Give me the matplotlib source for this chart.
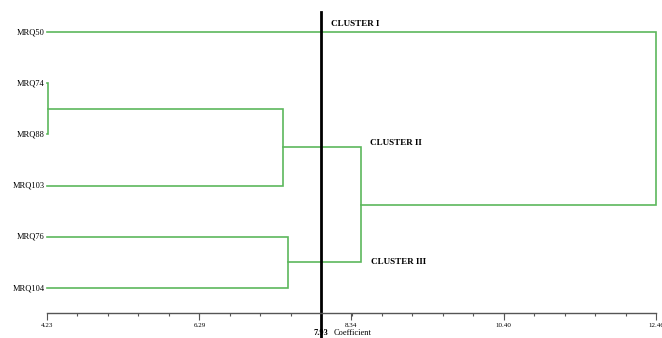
import matplotlib.pyplot as plt
import numpy as np

# leaves top to bottom
leaves = ['MRQ50', 'MRQ74', 'MRQ88', 'MRQ103', 'MRQ76', 'MRQ104']
# merges, scipy style ids (0-5 leaves, 6.. new clusters)
merge_a = [1, 6, 4, 7, 0]
merge_b = [2, 3, 5, 8, 9]
merge_h = [4.24, 7.42, 7.49, 8.47, 12.46]

ticks = [4.23, 6.29, 8.34, 10.40, 12.46]
cut = 7.93
cluster_names = ['CLUSTER I', 'CLUSTER II', 'CLUSTER III']

green = '#5cb85c'
xmin = ticks[0]

fig = plt.figure(figsize=(6.62, 3.38), dpi=100)
ax = fig.add_axes([0, 0, 1, 1])

# node positions
pos_x = [xmin] * len(leaves)
pos_y = list(range(len(leaves)))
for a, b, h in zip(merge_a, merge_b, merge_h):
    ax.plot([pos_x[a], h, h, pos_x[b]], [pos_y[a], pos_y[a], pos_y[b], pos_y[b]],
            color=green, lw=1.2, solid_joinstyle='miter')
    pos_x.append(h)
    pos_y.append((pos_y[a] + pos_y[b]) / 2)

for i, name in enumerate(leaves):
    ax.text(xmin - 0.03, i, name, ha='right', va='center',
            family='Liberation Serif', fontsize=6)

# cut line
ax.plot([cut, cut], [-0.39, 6.2], color='black', lw=2)

ax.text(8.07, -0.16, cluster_names[0], ha='left', va='center',
        family='Liberation Serif', fontweight='bold', fontsize=6.5)
ax.text(8.60, 2.17, cluster_names[1], ha='left', va='center',
        family='Liberation Serif', fontweight='bold', fontsize=6.5)
ax.text(8.61, 4.49, cluster_names[2], ha='left', va='center',
        family='Liberation Serif', fontweight='bold', fontsize=6.5)

ax.text(cut, 5.88, '%.2f' % cut, ha='center', va='center',
        family='Liberation Serif', fontweight='bold', fontsize=6)
ax.text(cut + 0.17, 5.87, 'Coefficient', ha='left', va='center',
        family='Liberation Serif', fontsize=6)

s = (656 - 47) / (ticks[-1] - ticks[0])
ax.set_xlim(xmin - 47 / s, xmin + (662 - 47) / s)
ax.set_ylim((338 - 32) / 51.2, -32 / 51.2)

for sp in ['top', 'left', 'right']:
    ax.spines[sp].set_visible(False)
ax.spines['bottom'].set_position(('data', (313 - 32) / 51.2))
ax.spines['bottom'].set_bounds(ticks[0], ticks[-1])
ax.spines['bottom'].set_color('#555555')
ax.spines['bottom'].set_linewidth(1)
ax.set_xticks(ticks)
ax.set_xticklabels(['%.2f' % t for t in ticks], family='Liberation Serif', fontsize=5)
ax.set_xticks(np.linspace(ticks[0], ticks[-1], 21), minor=True)
ax.tick_params(axis='x', which='major', length=5, width=0.8, color='#555555', pad=2)
ax.tick_params(axis='x', which='minor', length=2.5, width=0.8, color='#555555')
ax.set_yticks([])
ax.patch.set_alpha(0)

plt.savefig('out.png', dpi=100)
